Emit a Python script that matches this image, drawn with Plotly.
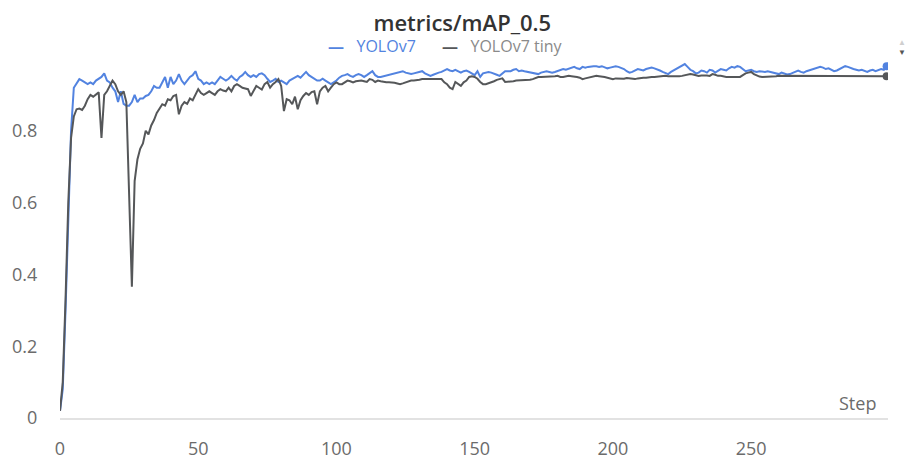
import plotly.graph_objects as go

steps = list(range(300))

yolov7 = [
    0.02, 0.08, 0.30, 0.58, 0.80, 0.92, 0.933, 0.944, 0.94, 0.935,
    0.93, 0.935, 0.93, 0.94, 0.945, 0.95, 0.96, 0.94, 0.935, 0.92,
    0.91, 0.88, 0.91, 0.875, 0.87, 0.87, 0.88, 0.90, 0.88, 0.89,
    0.89, 0.897, 0.90, 0.91, 0.925, 0.92, 0.92, 0.935, 0.95, 0.92,
    0.95, 0.93, 0.94, 0.958, 0.94, 0.93, 0.94, 0.95, 0.955, 0.966,
    0.945, 0.94, 0.93, 0.935, 0.93, 0.935, 0.93, 0.94, 0.95, 0.945,
    0.94, 0.945, 0.953, 0.945, 0.94, 0.95, 0.955, 0.964, 0.955, 0.95,
    0.955, 0.95, 0.958, 0.96, 0.955, 0.945, 0.936, 0.94, 0.945, 0.936,
    0.94, 0.935, 0.93, 0.94, 0.944, 0.95, 0.953, 0.948, 0.955, 0.964,
    0.955, 0.95, 0.945, 0.94, 0.94, 0.945, 0.94, 0.935, 0.93, 0.935,
    0.94, 0.948, 0.953, 0.955, 0.958, 0.953, 0.95, 0.955, 0.958, 0.955,
    0.95, 0.955, 0.96, 0.966, 0.955, 0.95, 0.95, 0.952, 0.955, 0.956,
    0.958, 0.96, 0.962, 0.964, 0.966, 0.962, 0.96, 0.958, 0.96, 0.962,
    0.964, 0.966, 0.96, 0.956, 0.953, 0.956, 0.96, 0.962, 0.964, 0.968,
    0.972, 0.968, 0.966, 0.97, 0.966, 0.962, 0.966, 0.968, 0.964, 0.96,
    0.955, 0.966, 0.95, 0.96, 0.962, 0.964, 0.962, 0.96, 0.956, 0.953,
    0.96, 0.966, 0.966, 0.966, 0.97, 0.972, 0.966, 0.968, 0.966, 0.964,
    0.964, 0.962, 0.96, 0.958, 0.962, 0.964, 0.966, 0.964, 0.962, 0.964,
    0.966, 0.968, 0.972, 0.97, 0.972, 0.976, 0.978, 0.974, 0.972, 0.978,
    0.976, 0.978, 0.98, 0.98, 0.98, 0.978, 0.98, 0.976, 0.974, 0.976,
    0.978, 0.98, 0.978, 0.976, 0.972, 0.966, 0.962, 0.964, 0.968, 0.972,
    0.97, 0.968, 0.972, 0.974, 0.976, 0.974, 0.972, 0.968, 0.964, 0.962,
    0.958, 0.964, 0.968, 0.972, 0.976, 0.98, 0.986, 0.978, 0.97, 0.966,
    0.96, 0.962, 0.968, 0.966, 0.962, 0.97, 0.968, 0.962, 0.966, 0.972,
    0.97, 0.968, 0.974, 0.978, 0.976, 0.98, 0.978, 0.972, 0.966, 0.968,
    0.97, 0.966, 0.964, 0.966, 0.965, 0.964, 0.966, 0.964, 0.962, 0.96,
    0.958, 0.962, 0.96, 0.957, 0.958, 0.962, 0.966, 0.968, 0.964, 0.962,
    0.966, 0.968, 0.97, 0.974, 0.976, 0.978, 0.976, 0.972, 0.974, 0.97,
    0.966, 0.968, 0.972, 0.976, 0.98, 0.978, 0.974, 0.972, 0.97, 0.968,
    0.97, 0.968, 0.964, 0.968, 0.97, 0.966, 0.968, 0.972, 0.97, 0.98,
]

yolov7_tiny = [
    0.02, 0.10, 0.33, 0.60, 0.78, 0.84, 0.86, 0.862, 0.858, 0.87,
    0.888, 0.90, 0.895, 0.90, 0.907, 0.78, 0.90, 0.91, 0.925, 0.94,
    0.93, 0.91, 0.90, 0.91, 0.88, 0.62, 0.366, 0.66, 0.72, 0.75,
    0.765, 0.80, 0.79, 0.815, 0.83, 0.85, 0.862, 0.874, 0.87, 0.888,
    0.885, 0.897, 0.90, 0.846, 0.87, 0.88, 0.875, 0.89, 0.885, 0.90,
    0.916, 0.905, 0.90, 0.905, 0.91, 0.905, 0.90, 0.91, 0.916, 0.912,
    0.91, 0.92, 0.91, 0.925, 0.93, 0.925, 0.92, 0.918, 0.916, 0.897,
    0.91, 0.925, 0.92, 0.915, 0.93, 0.936, 0.92, 0.93, 0.936, 0.944,
    0.925, 0.855, 0.888, 0.885, 0.874, 0.895, 0.86, 0.885, 0.897, 0.905,
    0.90, 0.908, 0.91, 0.874, 0.91, 0.92, 0.925, 0.91, 0.92, 0.93,
    0.935, 0.93, 0.93, 0.936, 0.94, 0.938, 0.935, 0.938, 0.94, 0.94,
    0.938, 0.936, 0.944, 0.942, 0.936, 0.94, 0.938, 0.936, 0.935, 0.935,
    0.935, 0.934, 0.932, 0.93, 0.932, 0.935, 0.938, 0.94, 0.94, 0.94,
    0.942, 0.944, 0.944, 0.944, 0.944, 0.944, 0.944, 0.944, 0.944, 0.935,
    0.93, 0.92, 0.916, 0.936, 0.93, 0.925, 0.935, 0.94, 0.95, 0.952,
    0.95, 0.945, 0.936, 0.93, 0.93, 0.932, 0.935, 0.938, 0.942, 0.944,
    0.946, 0.936, 0.936, 0.937, 0.938, 0.94, 0.94, 0.94, 0.94, 0.94,
    0.942, 0.944, 0.948, 0.95, 0.95, 0.95, 0.952, 0.95, 0.95, 0.952,
    0.953, 0.95, 0.95, 0.952, 0.953, 0.952, 0.952, 0.95, 0.948, 0.944,
    0.946, 0.948, 0.95, 0.953, 0.953, 0.952, 0.952, 0.95, 0.948, 0.946,
    0.944, 0.946, 0.945, 0.944, 0.945, 0.947, 0.946, 0.945, 0.944, 0.946,
    0.948, 0.948, 0.948, 0.95, 0.95, 0.95, 0.951, 0.952, 0.953, 0.953,
    0.952, 0.952, 0.951, 0.95, 0.952, 0.953, 0.955, 0.957, 0.958, 0.957,
    0.955, 0.953, 0.954, 0.955, 0.954, 0.953, 0.958, 0.956, 0.953, 0.953,
    0.951, 0.95, 0.95, 0.95, 0.95, 0.95, 0.95, 0.955, 0.96, 0.962,
    0.964, 0.958, 0.954, 0.951, 0.95, 0.95, 0.951, 0.951, 0.952, 0.952,
    0.953, 0.953, 0.952, 0.952, 0.953, 0.953, 0.952, 0.952, 0.953, 0.953,
    0.952, 0.952, 0.953, 0.953, 0.952, 0.952, 0.952, 0.953, 0.953, 0.952,
    0.952, 0.952, 0.952, 0.953, 0.953, 0.952, 0.952, 0.952, 0.952, 0.952,
    0.952, 0.953, 0.952, 0.952, 0.952, 0.952, 0.952, 0.952, 0.952, 0.952,
]

x_ticks = [0, 50, 100, 150, 200, 250]
y_ticks = [0, 0.2, 0.4, 0.6, 0.8]
y_tick_labels = ["0", "0.2", "0.4", "0.6", "0.8"]

BLUE = "#5283e0"
GRAY = "#555759"
FONT = "Open Sans"
TICK = "#6b6b6b"

fig = go.Figure()
fig.add_trace(go.Scatter(x=steps, y=yolov7, mode="lines", name="YOLOv7",
                         line=dict(color=BLUE, width=2)))
fig.add_trace(go.Scatter(x=steps, y=yolov7_tiny, mode="lines", name="YOLOv7 tiny",
                         line=dict(color=GRAY, width=2)))
fig.add_trace(go.Scatter(x=[steps[-1]], y=[yolov7[-1]], mode="markers",
                         marker=dict(color=BLUE, size=8), showlegend=False))
fig.add_trace(go.Scatter(x=[steps[-1]], y=[yolov7_tiny[-1]], mode="markers",
                         marker=dict(color=GRAY, size=8), showlegend=False))

# page body has an 8px default margin, so the figure is sized to fit the window
fig.update_layout(
    width=905, height=451,
    margin=dict(l=52, r=25, t=51, b=41),
    paper_bgcolor="white", plot_bgcolor="white",
    showlegend=False,
    font=dict(family=FONT, color=TICK, size=18),
    title=dict(text="metrics/mAP_0.5", x=0.502, xanchor="center", y=0.967, yanchor="middle",
               font=dict(family=FONT, size=22, color="#333333", weight=600)),
    xaxis=dict(range=[0, 299.5], tickvals=x_ticks, showgrid=False, zeroline=False,
               showline=True, linecolor="#e2e2e2", linewidth=2, automargin=False,
               ticks="outside", ticklen=13, tickcolor="rgba(0,0,0,0)",
               tickfont=dict(size=18, color=TICK)),
    yaxis=dict(range=[0, 1.0], tickvals=y_ticks, ticktext=y_tick_labels,
               showgrid=False, zeroline=False, showline=False, automargin=False,
               ticks="outside", ticklen=18, tickcolor="rgba(0,0,0,0)",
               tickfont=dict(size=18, color=TICK)),
    annotations=[
        dict(text="Step", xref="paper", yref="paper", x=0.988, y=0.042,
             xanchor="right", yanchor="middle", showarrow=False,
             font=dict(size=18, color=TICK)),
        dict(text="<span style='color:%s'><b>—</b></span>   <span style='color:%s'>YOLOv7</span>" % (BLUE, BLUE),
             xref="paper", yref="paper", x=0.377, y=1.036, xanchor="center", yanchor="middle",
             showarrow=False, font=dict(size=16)),
        dict(text="<span style='color:%s'><b>—</b></span>   <span style='color:#8a8a8a'>YOLOv7 tiny</span>" % GRAY,
             xref="paper", yref="paper", x=0.535, y=1.036, xanchor="center", yanchor="middle",
             showarrow=False, font=dict(size=16)),
        dict(text="<span style='color:#cfcfcf'>▲</span><br><span style='color:#555'>▼</span>",
             xref="paper", yref="paper", x=1.017, y=1.036, xanchor="center", yanchor="middle",
             showarrow=False, font=dict(size=8)),
    ],
)

fig.write_html("out.html")
